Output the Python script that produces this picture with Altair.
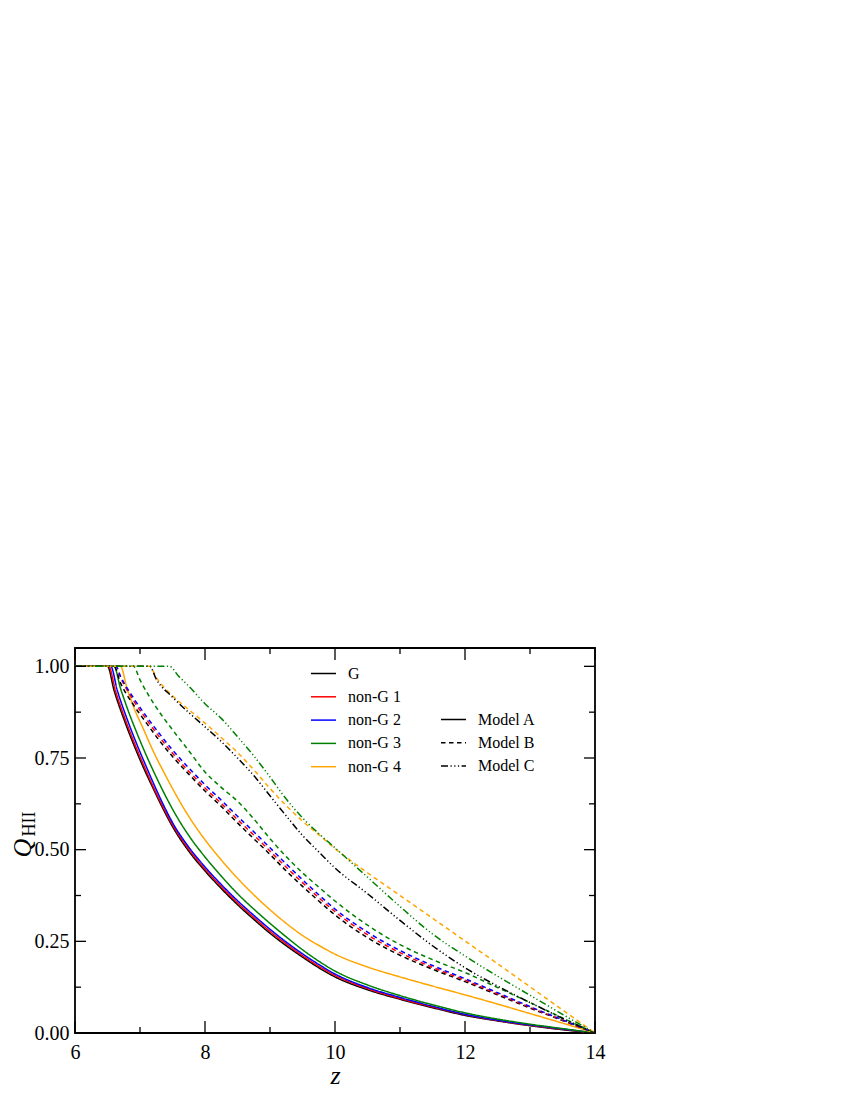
import altair as alt
import pandas as pd

SERIES = ["G", "non-G 1", "non-G 2", "non-G 3", "non-G 4"]
COLORS = ["#000000", "#ff0000", "#0000ff", "#008000", "#ffa500"]
MODELS = ["Model A", "Model B", "Model C"]
DASHES = [[1, 0], [4.5, 3.5], [7, 2.5, 1.2, 2.5, 1.2, 2.5, 1.2, 2.5]]

X_MAJOR = [6, 8, 10, 12, 14]
X_MINOR = [7, 9, 11, 13]
Y_MAJOR = [0.0, 0.25, 0.5, 0.75, 1.0]
Y_MINOR = [0.125, 0.375, 0.625, 0.875]

# ---- Model A (solid) ----
A_G_z = [6.0, 6.5, 6.6, 6.75, 6.9, 7.05, 7.2, 7.35, 7.5, 7.75, 8.0, 8.25, 8.5, 8.75, 9.0, 9.25, 9.5, 9.75, 10.0, 10.5, 11.0, 11.5, 12.0, 12.5, 13.0, 13.5, 14.0]
A_G_q = [1.0, 1.0, 0.935, 0.857, 0.788, 0.725, 0.668, 0.613, 0.563, 0.496, 0.442, 0.394, 0.35, 0.31, 0.272, 0.238, 0.207, 0.178, 0.153, 0.118, 0.092, 0.069, 0.048, 0.033, 0.02, 0.009, 0.0]
A_N1_z = [6.0, 6.52, 6.62, 6.77, 6.92, 7.07, 7.2, 7.35, 7.5, 7.75, 8.0, 8.25, 8.5, 8.75, 9.0, 9.25, 9.5, 9.75, 10.0, 10.5, 11.0, 11.5, 12.0, 12.5, 13.0, 13.5, 14.0]
A_N1_q = [1.0, 1.0, 0.935, 0.857, 0.788, 0.725, 0.673, 0.618, 0.568, 0.501, 0.447, 0.399, 0.355, 0.315, 0.277, 0.243, 0.211, 0.182, 0.157, 0.121, 0.094, 0.071, 0.05, 0.034, 0.021, 0.01, 0.0]
A_N2_z = [6.0, 6.55, 6.65, 6.8, 6.95, 7.1, 7.2, 7.35, 7.5, 7.75, 8.0, 8.25, 8.5, 8.75, 9.0, 9.25, 9.5, 9.75, 10.0, 10.5, 11.0, 11.5, 12.0, 12.5, 13.0, 13.5, 14.0]
A_N2_q = [1.0, 1.0, 0.935, 0.857, 0.788, 0.725, 0.684, 0.626, 0.574, 0.507, 0.453, 0.405, 0.361, 0.321, 0.283, 0.248, 0.216, 0.187, 0.161, 0.124, 0.097, 0.073, 0.051, 0.035, 0.022, 0.011, 0.0]
A_N3_z = [6.0, 6.6, 6.7, 6.8, 6.95, 7.1, 7.25, 7.4, 7.6, 7.8, 8.0, 8.25, 8.5, 8.75, 9.0, 9.25, 9.5, 9.75, 10.0, 10.5, 11.0, 11.5, 12.0, 12.5, 13.0, 13.5, 14.0]
A_N3_q = [1.0, 1.0, 0.94, 0.888, 0.819, 0.756, 0.698, 0.644, 0.58, 0.526, 0.48, 0.428, 0.38, 0.338, 0.299, 0.262, 0.227, 0.196, 0.169, 0.131, 0.102, 0.077, 0.055, 0.038, 0.024, 0.012, 0.0]
A_N4_z = [6.0, 6.7, 6.8, 6.9, 7.05, 7.2, 7.4, 7.6, 7.8, 8.0, 8.25, 8.5, 8.75, 9.0, 9.25, 9.5, 9.75, 10.0, 10.5, 11.0, 11.5, 12.0, 12.5, 13.0, 13.5, 14.0]
A_N4_q = [1.0, 1.0, 0.94, 0.89, 0.83, 0.77, 0.70, 0.635, 0.577, 0.527, 0.472, 0.422, 0.377, 0.336, 0.299, 0.266, 0.239, 0.215, 0.18, 0.153, 0.128, 0.104, 0.079, 0.053, 0.027, 0.0]

# ---- Model B (dashed) ----
B_z = [6.0, 6.6, 6.7, 6.9, 7.1, 7.3, 7.5, 7.75, 8.0, 8.25, 8.5, 8.75, 9.0, 9.25, 9.5, 9.75, 10.0, 10.5, 11.0, 11.5, 12.0, 12.5, 13.0, 13.5, 14.0]
B_G_q = [1.0, 1.0, 0.955, 0.895, 0.845, 0.797, 0.754, 0.706, 0.66, 0.618, 0.573, 0.53, 0.487, 0.442, 0.4, 0.36, 0.322, 0.26, 0.212, 0.174, 0.14, 0.104, 0.068, 0.034, 0.0]
B_N_z = [6.0, 6.63, 6.7, 6.9, 7.1, 7.3, 7.5, 7.75, 8.0, 8.25, 8.5, 8.75, 9.0, 9.25, 9.5, 9.75, 10.0, 10.5, 11.0, 11.5, 12.0, 12.5, 13.0, 13.5, 14.0]
B_N1_q = [1.0, 1.0, 0.97, 0.907, 0.855, 0.807, 0.763, 0.714, 0.668, 0.626, 0.582, 0.54, 0.496, 0.452, 0.41, 0.369, 0.331, 0.268, 0.219, 0.179, 0.144, 0.107, 0.07, 0.035, 0.0]
B_N2_q = [1.0, 1.0, 0.973, 0.914, 0.863, 0.816, 0.772, 0.723, 0.677, 0.635, 0.591, 0.549, 0.505, 0.461, 0.418, 0.377, 0.338, 0.275, 0.225, 0.184, 0.148, 0.11, 0.072, 0.036, 0.0]
B_N3_z = [6.0, 6.9, 7.0, 7.25, 7.5, 7.75, 8.0, 8.25, 8.5, 8.75, 9.0, 9.25, 9.5, 9.75, 10.0, 10.5, 11.0, 11.5, 12.0, 12.5, 13.0, 13.5, 14.0]
B_N3_q = [1.0, 1.0, 0.963, 0.888, 0.827, 0.77, 0.712, 0.67, 0.632, 0.584, 0.53, 0.481, 0.437, 0.398, 0.36, 0.294, 0.241, 0.2, 0.165, 0.124, 0.083, 0.041, 0.0]
B_N4_z = [6.0, 7.15, 7.25, 7.5, 7.75, 8.0, 8.25, 8.5, 8.75, 9.0, 9.25, 9.5, 9.75, 10.0, 10.5, 11.0, 11.5, 12.0, 12.5, 13.0, 13.5, 14.0]
B_N4_q = [1.0, 1.0, 0.97, 0.92, 0.882, 0.845, 0.806, 0.765, 0.718, 0.667, 0.62, 0.578, 0.541, 0.503, 0.437, 0.375, 0.313, 0.251, 0.189, 0.126, 0.063, 0.0]

# ---- Model C (dash-dot-dot-dot) ----
C_G_z = [6.0, 7.15, 7.25, 7.5, 7.75, 8.0, 8.25, 8.5, 8.75, 9.0, 9.25, 9.5, 9.75, 10.0, 10.5, 11.0, 11.5, 12.0, 12.5, 13.0, 13.5, 14.0]
C_G_q = [1.0, 1.0, 0.965, 0.916, 0.874, 0.835, 0.795, 0.75, 0.702, 0.647, 0.592, 0.539, 0.494, 0.45, 0.38, 0.307, 0.238, 0.178, 0.128, 0.083, 0.04, 0.0]
C_N3_z = [6.0, 7.45, 7.6, 7.75, 8.0, 8.25, 8.5, 8.75, 9.0, 9.25, 9.5, 9.75, 10.0, 10.5, 11.0, 11.5, 12.0, 12.5, 13.0, 13.5, 14.0]
C_N3_q = [1.0, 1.0, 0.972, 0.946, 0.898, 0.858, 0.808, 0.756, 0.698, 0.638, 0.587, 0.544, 0.505, 0.425, 0.345, 0.27, 0.21, 0.155, 0.103, 0.051, 0.0]

CURVES = [
    ("G", "Model A", A_G_z, A_G_q),
    ("non-G 1", "Model A", A_N1_z, A_N1_q),
    ("non-G 2", "Model A", A_N2_z, A_N2_q),
    ("non-G 3", "Model A", A_N3_z, A_N3_q),
    ("non-G 4", "Model A", A_N4_z, A_N4_q),
    ("G", "Model B", B_z, B_G_q),
    ("non-G 1", "Model B", B_N_z, B_N1_q),
    ("non-G 2", "Model B", B_N_z, B_N2_q),
    ("non-G 3", "Model B", B_N3_z, B_N3_q),
    ("non-G 4", "Model B", B_N4_z, B_N4_q),
    ("G", "Model C", C_G_z, C_G_q),
    ("non-G 3", "Model C", C_N3_z, C_N3_q),
]

rows = []
for s, m, zs, qs in CURVES:
    for z, q in zip(zs, qs):
        rows.append({"series": s, "model": m, "z": z, "Q": q})
df = pd.DataFrame(rows)

W, H = 520, 385
FONT = "Liberation Serif"

xscale = alt.Scale(domain=[6, 14], nice=False, zero=False)
yscale = alt.Scale(domain=[0, 1.05], nice=False, zero=False)

XAX = alt.Axis(values=X_MAJOR, format="d", labelPadding=9, labelFlush=False,
               labelFont=FONT, labelFontSize=20,
               title="z", titleFontStyle="italic", titleFontSize=26,
               titleFontWeight="normal", titlePadding=0, titleFont=FONT)
YAX = alt.Axis(values=Y_MAJOR, format=".2f", labelPadding=6, labelFont=FONT, labelFontSize=20,
               title=None)

lines = alt.Chart(df).mark_line(strokeWidth=1.5, interpolate="monotone").encode(
    x=alt.X("z:Q", scale=xscale, axis=XAX),
    y=alt.Y("Q:Q", scale=yscale, axis=YAX),
    color=alt.Color("series:N", scale=alt.Scale(domain=SERIES, range=COLORS), sort=SERIES,
                    legend=alt.Legend(title=None, orient="none", legendX=235, legendY=12,
                                      symbolType="stroke", symbolSize=625, symbolStrokeWidth=1.5,
                                      labelFont=FONT, labelFontSize=16, labelColor="black",
                                      labelOffset=11, rowPadding=1.3, padding=0)),
    strokeDash=alt.StrokeDash("model:N", scale=alt.Scale(domain=MODELS, range=DASHES), sort=MODELS,
                              legend=alt.Legend(title=None, orient="none", legendX=365, legendY=58,
                                                symbolType="stroke", symbolSize=625, symbolStrokeWidth=1.5,
                                                symbolStrokeColor="black",
                                                labelFont=FONT, labelFontSize=16, labelColor="black",
                                                labelOffset=11, rowPadding=1.3, padding=0)),
)

def xticks(vals, length):
    d = pd.DataFrame({"z": vals})
    bottom = alt.Chart(d).mark_rule(color="black", strokeWidth=1.3).encode(
        x=alt.X("z:Q", scale=xscale, axis=XAX), y=alt.value(H), y2=alt.value(H - length))
    top = alt.Chart(d).mark_rule(color="black", strokeWidth=1.3).encode(
        x=alt.X("z:Q", scale=xscale, axis=XAX), y=alt.value(0), y2=alt.value(length))
    return [bottom, top]

def yticks(vals, length):
    d = pd.DataFrame({"Q": vals})
    left = alt.Chart(d).mark_rule(color="black", strokeWidth=1.3).encode(
        y=alt.Y("Q:Q", scale=yscale, axis=YAX), x=alt.value(0), x2=alt.value(length))
    right = alt.Chart(d).mark_rule(color="black", strokeWidth=1.3).encode(
        y=alt.Y("Q:Q", scale=yscale, axis=YAX), x=alt.value(W), x2=alt.value(W - length))
    return [left, right]

ytitle_q = alt.Chart(pd.DataFrame({"t": ["Q"]})).mark_text(
    font=FONT, fontStyle="italic", fontSize=26, angle=270, align="center", baseline="alphabetic",
    color="black").encode(text="t:N", x=alt.value(-44), y=alt.value(200))
ytitle_sub = alt.Chart(pd.DataFrame({"t": ["HII"]})).mark_text(
    font=FONT, fontSize=18, angle=270, align="center", baseline="alphabetic",
    color="black").encode(text="t:N", x=alt.value(-40), y=alt.value(176))

layers = [lines] + xticks(X_MAJOR, 12) + xticks(X_MINOR, 6) + yticks(Y_MAJOR, 11) + yticks(Y_MINOR, 6) + [ytitle_q, ytitle_sub]

chart = alt.layer(*layers).properties(
    width=W, height=H,
    padding={"left": 67, "top": 640, "right": 30, "bottom": 64},
    autosize=alt.AutoSizeParams(type="none"),
).configure_view(
    stroke="black", strokeWidth=1.8
).configure_axis(
    labelFont=FONT, labelFontSize=20, labelColor="black", ticks=False, domain=False, grid=False,
    titleColor="black"
)

chart.save("out.html", embed_options={"renderer": "svg", "actions": False})
